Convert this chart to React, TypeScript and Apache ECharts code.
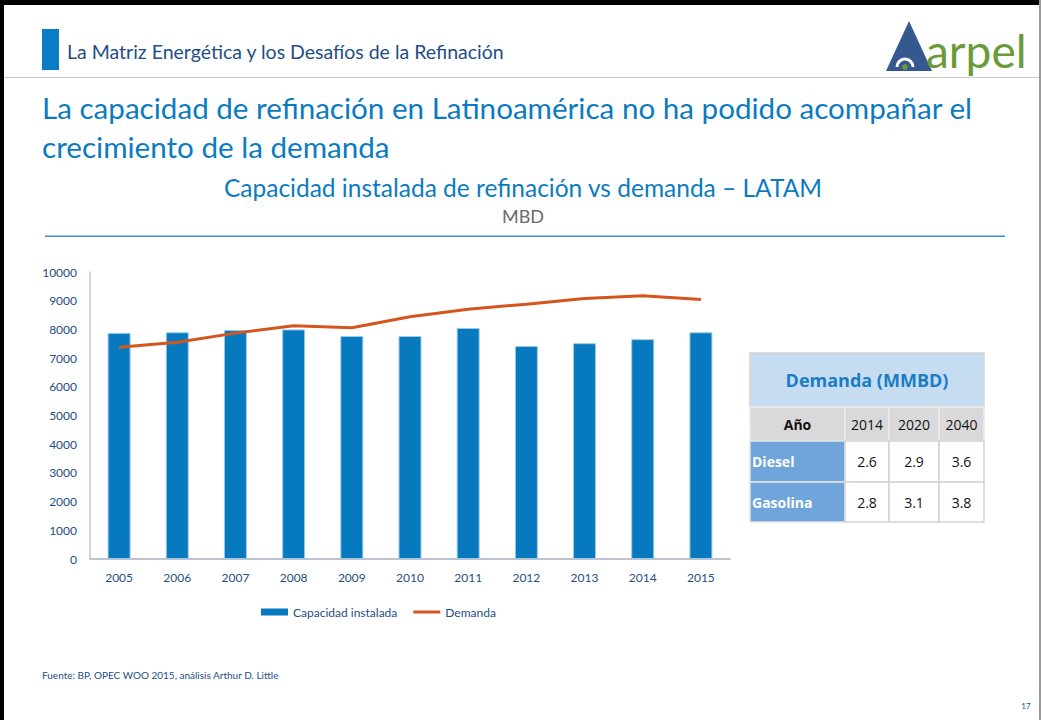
import React, { useEffect, useRef } from "react";
import * as echarts from "echarts";

const years = ["2005", "2006", "2007", "2008", "2009", "2010", "2011", "2012", "2013", "2014", "2015"];
const capacidadInstalada = [7880, 7900, 7980, 8000, 7770, 7770, 8050, 7420, 7520, 7660, 7900];
const demanda = [7380, 7550, 7870, 8130, 8060, 8440, 8700, 8880, 9080, 9170, 9040];
const yTicks = { min: 0, max: 10000, interval: 1000 };

const tableTitle = "Demanda (MMBD)";
const tableYearHeader = "Año";
const tableYears = ["2014", "2020", "2040"];
const tableRowLabels = ["Diesel", "Gasolina"];
const dieselDemand = [2.6, 2.9, 3.6];
const gasolinaDemand = [2.8, 3.1, 3.8];

const headerText = "La Matriz Energética y los Desafíos de la Refinación";
const mainTitle1 = "La capacidad de refinación en Latinoamérica no ha podido acompañar el";
const mainTitle2 = "crecimiento de la demanda";
const chartTitle = "Capacidad instalada de refinación vs demanda – LATAM";
const chartUnit = "MBD";
const sourceText = "Fuente: BP, OPEC WOO 2015, análisis Arthur D. Little";
const pageNumber = "17";

const FONT = "Lato, 'Open Sans', sans-serif";
const TFONT = "'Open Sans', 'Noto Sans', sans-serif";

function buildTable(): any[] {
  const els: any[] = [];
  const xs = [750, 845, 889, 939, 984];
  const ys = [353, 407, 441, 482, 522];
  const border = "#d3d3d3";
  els.push({
    type: "rect",
    shape: { x: xs[0], y: ys[0], width: xs[4] - xs[0], height: ys[1] - ys[0] },
    style: { fill: "#c5dcf1", stroke: border, lineWidth: 1.5 },
  });
  els.push({
    type: "text",
    x: (xs[0] + xs[4]) / 2,
    y: (ys[0] + ys[1]) / 2,
    style: { text: tableTitle, fill: "#1a7dc4", font: `bold 18px ${TFONT}`, align: "center", verticalAlign: "middle" },
  });
  const headerCells = [tableYearHeader, ...tableYears];
  headerCells.forEach((t, i) => {
    els.push({
      type: "rect",
      shape: { x: xs[i], y: ys[1], width: xs[i + 1] - xs[i], height: ys[2] - ys[1] },
      style: { fill: "#d9d9d9", stroke: "#ececec", lineWidth: 1.5 },
    });
    els.push({
      type: "text",
      x: (xs[i] + xs[i + 1]) / 2,
      y: (ys[1] + ys[2]) / 2,
      style: {
        text: t,
        fill: "#111",
        font: `${i === 0 ? "bold " : ""}14px ${TFONT}`,
        align: "center",
        verticalAlign: "middle",
      },
    });
  });
  const rows = [dieselDemand, gasolinaDemand];
  rows.forEach((vals, r) => {
    const y0 = ys[r + 2];
    const y1 = ys[r + 3];
    els.push({
      type: "rect",
      shape: { x: xs[0], y: y0, width: xs[1] - xs[0], height: y1 - y0 },
      style: { fill: "#6fa5db", stroke: "#e4e4e4", lineWidth: 1.5 },
    });
    els.push({
      type: "text",
      x: xs[0] + 2,
      y: (y0 + y1) / 2,
      style: { text: tableRowLabels[r], fill: "#fff", font: `bold 14px ${TFONT}`, align: "left", verticalAlign: "middle" },
    });
    vals.forEach((v, i) => {
      els.push({
        type: "rect",
        shape: { x: xs[i + 1], y: y0, width: xs[i + 2] - xs[i + 1], height: y1 - y0 },
        style: { fill: "#fff", stroke: border, lineWidth: 1.5 },
      });
      els.push({
        type: "text",
        x: (xs[i + 1] + xs[i + 2]) / 2,
        y: (y0 + y1) / 2,
        style: { text: v.toFixed(1), fill: "#111", font: `14px ${TFONT}`, align: "center", verticalAlign: "middle" },
      });
    });
  });
  return els;
}

export default function App() {
  const ref = useRef<HTMLDivElement>(null);
  useEffect(() => {
    if (!ref.current) return;
    const chart = echarts.init(ref.current, undefined, { renderer: "svg" });
    const graphics: any[] = [
      { type: "rect", shape: { x: 0, y: 0, width: 1041, height: 5 }, style: { fill: "#000" } },
      { type: "rect", shape: { x: 0, y: 0, width: 4, height: 720 }, style: { fill: "#000" } },
      { type: "rect", shape: { x: 1039, y: 0, width: 2, height: 720 }, style: { fill: "#9a9a9a" } },
      { type: "rect", shape: { x: 42, y: 29, width: 17, height: 41 }, style: { fill: "#0a7cc4" } },
      {
        type: "text",
        x: 67,
        y: 51,
        style: { text: headerText, fill: "#1f4e86", font: `19.5px ${FONT}`, verticalAlign: "middle" },
      },
      { type: "rect", shape: { x: 4, y: 77, width: 1035, height: 1 }, style: { fill: "#c8c8c8" } },
      { type: "polygon", shape: { points: [[909, 21], [886, 71], [932, 71]] }, style: { fill: "#35598f" } },
      {
        type: "arc",
        shape: { cx: 905, cy: 67, r: 8, startAngle: Math.PI, endAngle: Math.PI * 2 },
        style: { stroke: "#fff", lineWidth: 3, fill: "none" },
      },
      { type: "circle", shape: { cx: 905, cy: 67, r: 3 }, style: { fill: "#6b9a3b" } },
      {
        type: "text",
        x: 926,
        y: 50,
        style: { text: "arpel", fill: "#6b9a3b", font: `46px ${FONT}`, verticalAlign: "middle" },
      },
      {
        type: "text",
        x: 42,
        y: 107,
        style: { text: mainTitle1, fill: "#0b7bc1", font: `29.6px ${FONT}`, verticalAlign: "middle" },
      },
      {
        type: "text",
        x: 42,
        y: 146,
        style: { text: mainTitle2, fill: "#0b7bc1", font: `29.6px ${FONT}`, verticalAlign: "middle" },
      },
      {
        type: "text",
        x: 523,
        y: 187,
        style: { text: chartTitle, fill: "#0b7bc1", font: `24.5px ${FONT}`, align: "center", verticalAlign: "middle" },
      },
      {
        type: "text",
        x: 523,
        y: 216,
        style: { text: chartUnit, fill: "#6b6b6b", font: `18px ${FONT}`, align: "center", verticalAlign: "middle" },
      },
      { type: "rect", shape: { x: 45, y: 235.5, width: 960, height: 1.5 }, style: { fill: "#3d90d2" } },
      {
        type: "text",
        x: 42,
        y: 675,
        style: { text: sourceText, fill: "#1f4e86", font: `10px ${FONT}`, verticalAlign: "middle" },
      },
      {
        type: "text",
        x: 1026,
        y: 706,
        style: { text: pageNumber, fill: "#1f4e86", font: `8px ${FONT}`, align: "center", verticalAlign: "middle" },
      },
      ...buildTable(),
    ];

    chart.setOption({
      animation: false,
      backgroundColor: "#ffffff",
      grid: { left: 90, right: 311, top: 272, bottom: 161, containLabel: false },
      legend: {
        left: 256,
        top: 601,
        itemWidth: 27,
        itemHeight: 7,
        itemGap: 16,
        textStyle: { color: "#1f4e86", fontSize: 12, fontFamily: FONT },
        data: [
          { name: "Capacidad instalada", icon: "rect", itemStyle: { borderWidth: 0 } },
          { name: "Demanda", icon: "path://M0 0 H27 V3 H0 Z" },
        ],
      },
      xAxis: {
        type: "category",
        data: years,
        axisLine: { show: true, lineStyle: { color: "#bfc2d0", width: 2 } },
        axisTick: { show: false },
        axisLabel: { color: "#1f4e86", fontSize: 12, fontFamily: FONT, margin: 12 },
      },
      yAxis: {
        type: "value",
        min: yTicks.min,
        max: yTicks.max,
        interval: yTicks.interval,
        axisLine: { show: true, lineStyle: { color: "#c4c6d2", width: 1.5 } },
        axisTick: { show: false },
        splitLine: { show: false },
        axisLabel: {
          color: "#1f4e86",
          fontSize: 12,
          fontFamily: FONT,
          margin: 13,
          formatter: (v: number) => String(v),
        },
      },
      series: [
        {
          name: "Capacidad instalada",
          type: "bar",
          data: capacidadInstalada,
          barWidth: 23,
          itemStyle: { color: "#0779bf", borderColor: "#9ccbea", borderWidth: 1 },
        },
        {
          name: "Demanda",
          type: "line",
          data: demanda,
          symbol: "none",
          z: 5,
          lineStyle: { color: "#d4561c", width: 3 },
          itemStyle: { color: "#d4561c" },
        },
      ],
      graphic: graphics,
    });
    return () => chart.dispose();
  }, []);
  return <div ref={ref} style={{ position: "fixed", left: 0, top: 0, width: 1041, height: 720 }} />;
}
